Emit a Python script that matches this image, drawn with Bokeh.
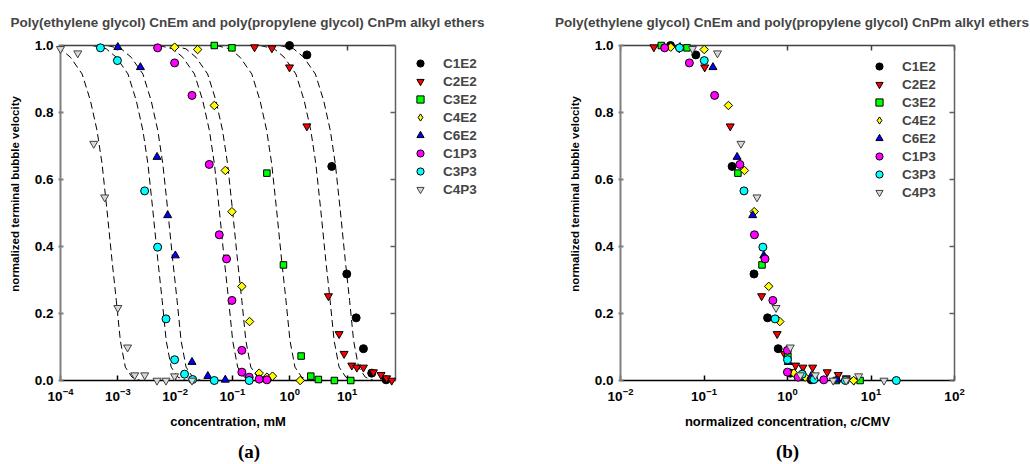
import math
from bokeh.plotting import figure
from bokeh.models import (Range1d, LinearAxis, LogAxis, FixedTicker, Legend, LegendItem, Label,
                          PrintfTickFormatter, CustomJSTickFormatter, LogTickFormatter)
from bokeh.layouts import row, column
from bokeh.embed import file_html
from bokeh.resources import INLINE

FONT = "Liberation Sans"

# ---------------- data ----------------
names = ["C1E2", "C2E2", "C3E2", "C4E2", "C6E2", "C1P3", "C3P3", "C4P3"]

# concentration (mM), normalized velocity, normalized concentration c/CMV
c1e2_c = [0.99, 1.99, 5.41, 9.89, 14.4, 19.3, 26.9, 47.9]
c1e2_v = [1.0, 0.972, 0.639, 0.318, 0.187, 0.095, 0.022, 0.002]
c1e2_cn = [0.0397, 0.0798, 0.217, 0.397, 0.577, 0.774, 1.08, 1.92]

c2e2_c = [0.243, 0.488, 0.99, 1.99, 4.73, 7.26, 8.87, 12.1, 14.8, 19.3, 28.8, 39.1, 49.0, 60.1]
c2e2_v = [0.995, 0.992, 0.935, 0.759, 0.252, 0.139, 0.080, 0.045, 0.039, 0.039, 0.025, 0.017, 0.007, 0.0]
c2e2_cn = [0.0251, 0.0505, 0.102, 0.206, 0.490, 0.752, 0.918, 1.25, 1.53, 2.0, 2.99, 4.05, 5.07, 6.22]

c3e2_c = [0.0482, 0.098, 0.399, 0.776, 1.58, 2.33, 3.16, 6.01, 11.6]
c3e2_v = [1.0, 0.993, 0.619, 0.345, 0.073, 0.013, 0.003, 0.0, 0.0]
c3e2_cn = [0.0308, 0.0625, 0.255, 0.495, 1.01, 1.49, 2.02, 3.84, 7.40]

c4e2_c = [0.0098, 0.0247, 0.0482, 0.075, 0.098, 0.146, 0.199, 0.293, 0.40, 0.50, 1.52]
c4e2_v = [0.995, 0.988, 0.821, 0.627, 0.504, 0.281, 0.176, 0.022, 0.010, 0.013, 0.0]
c4e2_cn = [0.0399, 0.1005, 0.196, 0.305, 0.399, 0.596, 0.809, 1.19, 1.63, 2.04, 6.18]

c6e2_c = [0.001, 0.00248, 0.00483, 0.00741, 0.0101, 0.0197, 0.0372, 0.075]
c6e2_v = [0.995, 0.935, 0.667, 0.493, 0.373, 0.055, 0.013, 0.002]
c6e2_cn = [0.0516, 0.128, 0.249, 0.383, 0.52, 1.02, 1.92, 3.87]

c1p3_c = [0.00495, 0.0098, 0.0197, 0.0394, 0.0589, 0.0789, 0.098, 0.146, 0.146, 0.196, 0.293, 0.399]
c1p3_v = [0.993, 0.948, 0.851, 0.645, 0.435, 0.363, 0.239, 0.090, 0.025, 0.010, 0.004, 0.002]
c1p3_cn = [0.0338, 0.0668, 0.134, 0.269, 0.402, 0.538, 0.668, 0.998, 0.998, 1.34, 2.0, 2.72]

c3p3_c = [0.000498, 0.000984, 0.00294, 0.00495, 0.00693, 0.0098, 0.0146, 0.0202, 0.0482, 0.196]
c3p3_v = [0.993, 0.955, 0.566, 0.398, 0.184, 0.062, 0.019, 0.003, 0.0, 0.0]
c3p3_cn = [0.0509, 0.1007, 0.301, 0.507, 0.71, 1.0, 1.50, 2.07, 4.93, 20.1]

c4p3_c = [0.0001, 0.0002, 0.00038, 0.00059, 0.001, 0.00148, 0.00197, 0.00295, 0.00483, 0.00692, 0.00977, 0.0197]
c4p3_v = [0.99, 0.977, 0.707, 0.547, 0.217, 0.099, 0.016, 0.016, 0.0, 0.0, 0.013, 0.0]
c4p3_cn = [0.0728, 0.145, 0.277, 0.431, 0.728, 1.08, 1.43, 2.15, 3.52, 5.04, 7.11, 14.3]

# dashed fitted curves (panel a): log10(concentration) sampled at the velocity levels fit_v
fit_v = [1.0, 0.99, 0.965, 0.915, 0.836, 0.746, 0.647, 0.507, 0.358, 0.239, 0.119, 0.04, 0.01, 0.0]
c1e2_fit_logc = [-0.175, 0.069, 0.243, 0.447, 0.591, 0.708, 0.795, 0.882, 0.969, 1.044, 1.114, 1.201, 1.318, 1.462]
c2e2_fit_logc = [-0.515, -0.271, -0.097, 0.107, 0.251, 0.368, 0.455, 0.542, 0.629, 0.704, 0.774, 0.861, 0.978, 1.122]
c3e2_fit_logc = [-1.285, -1.041, -0.867, -0.663, -0.519, -0.402, -0.315, -0.228, -0.141, -0.066, 0.004, 0.091, 0.208, 0.352]
c4e2_fit_logc = [-2.055, -1.811, -1.637, -1.433, -1.289, -1.172, -1.085, -0.998, -0.911, -0.836, -0.766, -0.679, -0.562, -0.418]
c6e2_fit_logc = [-3.185, -2.941, -2.767, -2.563, -2.419, -2.302, -2.215, -2.128, -2.041, -1.966, -1.896, -1.809, -1.692, -1.548]
c1p3_fit_logc = [-2.285, -2.041, -1.867, -1.663, -1.519, -1.402, -1.315, -1.228, -1.141, -1.066, -0.996, -0.909, -0.792, -0.648]
c3p3_fit_logc = [-3.445, -3.201, -3.027, -2.823, -2.679, -2.562, -2.475, -2.388, -2.301, -2.226, -2.156, -2.069, -1.952, -1.808]
c4p3_fit_logc = [-4.245, -4.001, -3.827, -3.623, -3.479, -3.362, -3.275, -3.188, -3.101, -3.026, -2.956, -2.869, -2.752, -2.608]

y_ticks = [0.0, 0.2, 0.4, 0.6, 0.8, 1.0]
xa_ticks = [1e-4, 1e-3, 1e-2, 1e-1, 1e0, 1e1]
xb_ticks = [1e-2, 1e-1, 1e0, 1e1, 1e2]

title_text = "Poly(ethylene glycol) CnEm and poly(propylene glycol) CnPm alkyl ethers"
ylabel_text = "normalized terminal bubble velocity"
xa_label = "concentration, mM"
xb_label = "normalized concentration, c/CMV"

data = {
    "C1E2": (c1e2_c, c1e2_v, c1e2_cn, c1e2_fit_logc),
    "C2E2": (c2e2_c, c2e2_v, c2e2_cn, c2e2_fit_logc),
    "C3E2": (c3e2_c, c3e2_v, c3e2_cn, c3e2_fit_logc),
    "C4E2": (c4e2_c, c4e2_v, c4e2_cn, c4e2_fit_logc),
    "C6E2": (c6e2_c, c6e2_v, c6e2_cn, c6e2_fit_logc),
    "C1P3": (c1p3_c, c1p3_v, c1p3_cn, c1p3_fit_logc),
    "C3P3": (c3p3_c, c3p3_v, c3p3_cn, c3p3_fit_logc),
    "C4P3": (c4p3_c, c4p3_v, c4p3_cn, c4p3_fit_logc),
}

# ---------------- styles ----------------
styles = {
    "C1E2": dict(marker="circle", size=8, fill_color="#000000", line_color="#000000", angle=0),
    "C2E2": dict(marker="inverted_triangle", size=8, fill_color="#FF0000", line_color="#000000", angle=0),
    "C3E2": dict(marker="square", size=6.5, fill_color="#00FF00", line_color="#000000", angle=0),
    "C4E2": dict(marker="square", size=6, fill_color="#FFFF00", line_color="#000000", angle=math.pi / 4),
    "C6E2": dict(marker="triangle", size=8, fill_color="#0000FF", line_color="#000000", angle=0),
    "C1P3": dict(marker="circle", size=8, fill_color="#FF00FF", line_color="#000000", angle=0),
    "C3P3": dict(marker="circle", size=8, fill_color="#00FFFF", line_color="#000000", angle=0),
    "C4P3": dict(marker="inverted_triangle", size=8, fill_color="#D9D9D9", line_color="#404040", angle=0),
}

STRIP_H = 36          # title strip on top
PANEL_H = 464 - STRIP_H
FRAME_TOP = 45 - STRIP_H
FRAME_H = 335


def style_axis(ax, color, width, tin=5, tout=0):
    ax.axis_line_color = color
    ax.axis_line_width = width
    ax.major_tick_line_color = color
    ax.major_tick_line_width = width
    ax.major_tick_in = tin
    ax.major_tick_out = tout
    ax.minor_tick_line_color = None
    ax.major_label_text_font = FONT
    ax.major_label_text_font_style = "bold"
    ax.major_label_text_font_size = "13.5px"
    ax.major_label_text_color = "#000000"


def text_axis(cls, where, text, standoff, size, font=FONT, orientation="horizontal"):
    """Axis with no line/tick that shows one text, as the label of a single tick at `where`."""
    return cls(ticker=FixedTicker(ticks=[where]),
               formatter=CustomJSTickFormatter(args=dict(t=text), code="return t"),
               axis_line_color=None, major_tick_line_color=None, minor_tick_line_color=None,
               major_tick_in=0, major_tick_out=0, major_label_standoff=standoff,
               major_label_text_font=font, major_label_text_font_style="bold",
               major_label_text_font_size=size, major_label_text_color="#000000",
               major_label_orientation=orientation)


def make_panel(width, mbl, mbr, xrange, xticks, xlabel, xcol, fits, tag, tag_at, ylabel_at):
    p = figure(width=width, height=PANEL_H, x_axis_type="log",
               x_range=Range1d(*xrange), y_range=Range1d(0, 1),
               output_backend="svg", toolbar_location=None,
               min_border_left=mbl, min_border_right=mbr,
               min_border_top=FRAME_TOP, min_border_bottom=PANEL_H - FRAME_TOP - FRAME_H,
               outline_line_color=None, background_fill_color="white", border_fill_color="white")
    p.grid.visible = False

    xa = p.xaxis[0]
    xa.ticker = FixedTicker(ticks=xticks)
    xa.formatter = LogTickFormatter()
    style_axis(xa, "#000000", 1.5, 5, 0)
    xa.major_label_standoff = 7
    xa.axis_label = xlabel
    xa.axis_label_standoff = 10
    xa.axis_label_text_font = FONT
    xa.axis_label_text_font_style = "bold"
    xa.axis_label_text_font_size = "13px"
    xa.axis_label_text_color = "#000000"

    ya = p.yaxis[0]
    ya.ticker = FixedTicker(ticks=y_ticks)
    ya.formatter = PrintfTickFormatter(format="%.1f")
    style_axis(ya, "#808080", 2, 3, 2)
    ya.major_label_standoff = 5

    top = LogAxis(ticker=FixedTicker(ticks=xticks),
                  formatter=CustomJSTickFormatter(code="return ''"))
    style_axis(top, "#404040", 1.5, 5, 0)
    top.major_label_text_font_size = "0px"
    top.major_label_standoff = 0
    p.add_layout(top, "above")

    right = LinearAxis(ticker=FixedTicker(ticks=y_ticks),
                       formatter=CustomJSTickFormatter(code="return ''"))
    style_axis(right, "#606060", 1.5, 5, 0)
    right.major_label_text_font_size = "0px"
    right.major_label_standoff = 0
    p.add_layout(right, "right")

    # texts carried by label-only axes (side panels are not clipped)
    p.add_layout(text_axis(LinearAxis, ylabel_at, ylabel_text, 10, "11.5px",
                           orientation="parallel"), "left")
    p.add_layout(text_axis(LinearAxis, tag_at, tag, 9, "19px", "Liberation Serif"), "below")

    if fits:
        for n in names:
            logc = data[n][3]
            p.line([10 ** a for a in logc], fit_v, line_color="#000000", line_width=1,
                   line_dash="7 4")

    for n in names:
        c, v, cn, _ = data[n]
        xs = c if xcol == 0 else cn
        st = styles[n]
        p.scatter(xs, v, marker=st["marker"], size=st["size"], fill_color=st["fill_color"],
                  line_color=st["line_color"], line_width=1, angle=st["angle"], level="overlay")
    return p


def legend_items(p):
    """Legend swatches (no data points) drawn with the series styles."""
    items = []
    for n in names:
        st = styles[n]
        marker = "diamond" if n == "C4E2" else st["marker"]
        r = p.scatter([float("nan")], [float("nan")], marker=marker, size=8,
                      fill_color=st["fill_color"], line_color=st["line_color"], line_width=1)
        items.append(LegendItem(label=n, renderers=[r]))
    return items


def make_legend(items, loc):
    return Legend(items=items, location=loc, orientation="vertical",
                  border_line_color=None, background_fill_alpha=0, padding=0, margin=0,
                  spacing=0, glyph_width=18, glyph_height=18, label_height=18,
                  label_standoff=14, label_text_font=FONT, label_text_font_style="bold",
                  label_text_font_size="13.5px")


# title strip
pt = figure(width=1030, height=STRIP_H, x_range=Range1d(0, 1030), y_range=Range1d(0, STRIP_H),
            output_backend="svg", toolbar_location=None, min_border=0,
            x_axis_location=None, y_axis_location=None, outline_line_color=None)
pt.grid.visible = False
pt.add_layout(Label(x=10, y=STRIP_H - 22, text=title_text, text_font=FONT, text_font_style="bold",
                    text_font_size="13.5px", text_align="left", text_baseline="middle"))
pt.add_layout(Label(x=791.5, y=STRIP_H - 22, text=title_text, text_font=FONT, text_font_style="bold",
                    text_font_size="13.5px", text_align="center", text_baseline="middle"))

# panel (a)
p1 = make_panel(400, 60, 5, (1e-4, 70), xa_ticks, xa_label, 0, True,
                tag="(a)", tag_at=0.1945, ylabel_at=0.557)

# legend of panel (a), in its own strip to the right of the plot
# (its frame is row-aligned with the plot frames, so the location is relative to that frame)
pl = figure(width=120, height=PANEL_H, x_range=Range1d(0, 1), y_range=Range1d(0, 1),
            output_backend="svg", toolbar_location=None, min_border=0,
            x_axis_location=None, y_axis_location=None, outline_line_color=None)
pl.grid.visible = False
pl.add_layout(make_legend(legend_items(pl), (11, 182)))

# panel (b)
p2 = make_panel(510, 100, 76, (1e-2, 1e2), xb_ticks, xb_label, 1, False,
                tag="(b)", tag_at=1.0, ylabel_at=0.557)
p2.add_layout(make_legend(legend_items(p2), (250, 179)))

layout = column(pt, row(p1, pl, p2))
open("out.html", "w").write(file_html(layout, INLINE))
